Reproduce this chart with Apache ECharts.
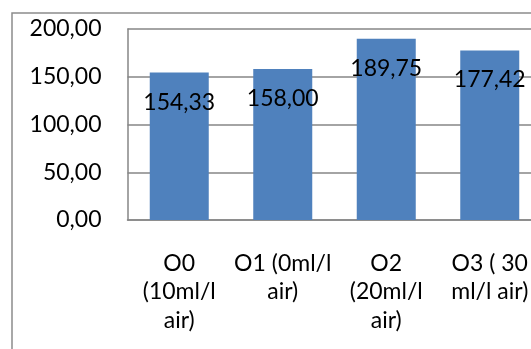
<!DOCTYPE html>
<html>
<head>
<meta charset="utf-8">
<script src="https://cdn.jsdelivr.net/npm/echarts@6/dist/echarts.min.js"></script>
<style>
  html, body { margin: 0; padding: 0; background: #fff; }
  #chart { width: 531px; height: 349px; }
</style>
</head>
<body>
<div id="chart"></div>
<script>
// Treatment groups and their mean values
const categories = ['O0\n(10ml/l\nair)', 'O1 (0ml/l\nair)', 'O2\n(20ml/l\nair)', 'O3 ( 30\nml/l air)'];
const values = [154.33, 158.00, 189.75, 177.42];
const yTicks = [0, 50, 100, 150, 200];

const FONT = 'Lato';
const GRAY = '#868686';
const fmt = v => Number(v).toFixed(2).replace('.', ',');

const chart = echarts.init(document.getElementById('chart'), null, { renderer: 'canvas' });
chart.setOption({
  animation: false,
  textStyle: { fontFamily: FONT },
  graphic: [{
    type: 'rect',
    shape: { x: 12, y: 13, width: 600, height: 400 },
    style: { fill: 'none', stroke: '#8c8c8c', lineWidth: 1.5 },
    silent: true
  }],
  // the plot area runs on past the right edge of the frame
  grid: { left: 127.5, top: 29, width: 414, height: 191, outerBoundsMode: 'none', containLabel: false },
  xAxis: {
    type: 'category',
    data: categories,
    axisLine: { show: true, lineStyle: { color: GRAY, width: 1.5 } },
    axisTick: { show: false },
    axisLabel: {
      interval: 0,
      margin: 29,
      color: '#000',
      fontFamily: FONT,
      fontSize: 23,
      lineHeight: 28.5,
      align: 'center',
      hideOverlap: false
    }
  },
  yAxis: {
    type: 'value',
    min: yTicks[0],
    max: yTicks[yTicks.length - 1],
    interval: yTicks[1] - yTicks[0],
    axisLine: { show: true, lineStyle: { color: GRAY, width: 1.5 } },
    axisTick: { show: false },
    splitLine: { show: true, lineStyle: { color: GRAY, width: 1.5 } },
    axisLabel: {
      margin: 26,
      color: '#000',
      fontFamily: FONT,
      fontSize: 23,
      formatter: fmt
    }
  },
  series: [{
    type: 'bar',
    data: values,
    barWidth: 59,
    itemStyle: { color: '#4F81BD' },
    label: {
      show: true,
      position: 'insideTop',
      distance: 18,
      color: '#000',
      fontFamily: FONT,
      fontSize: 23,
      formatter: p => fmt(p.value)
    }
  }]
});
</script>
</body>
</html>
